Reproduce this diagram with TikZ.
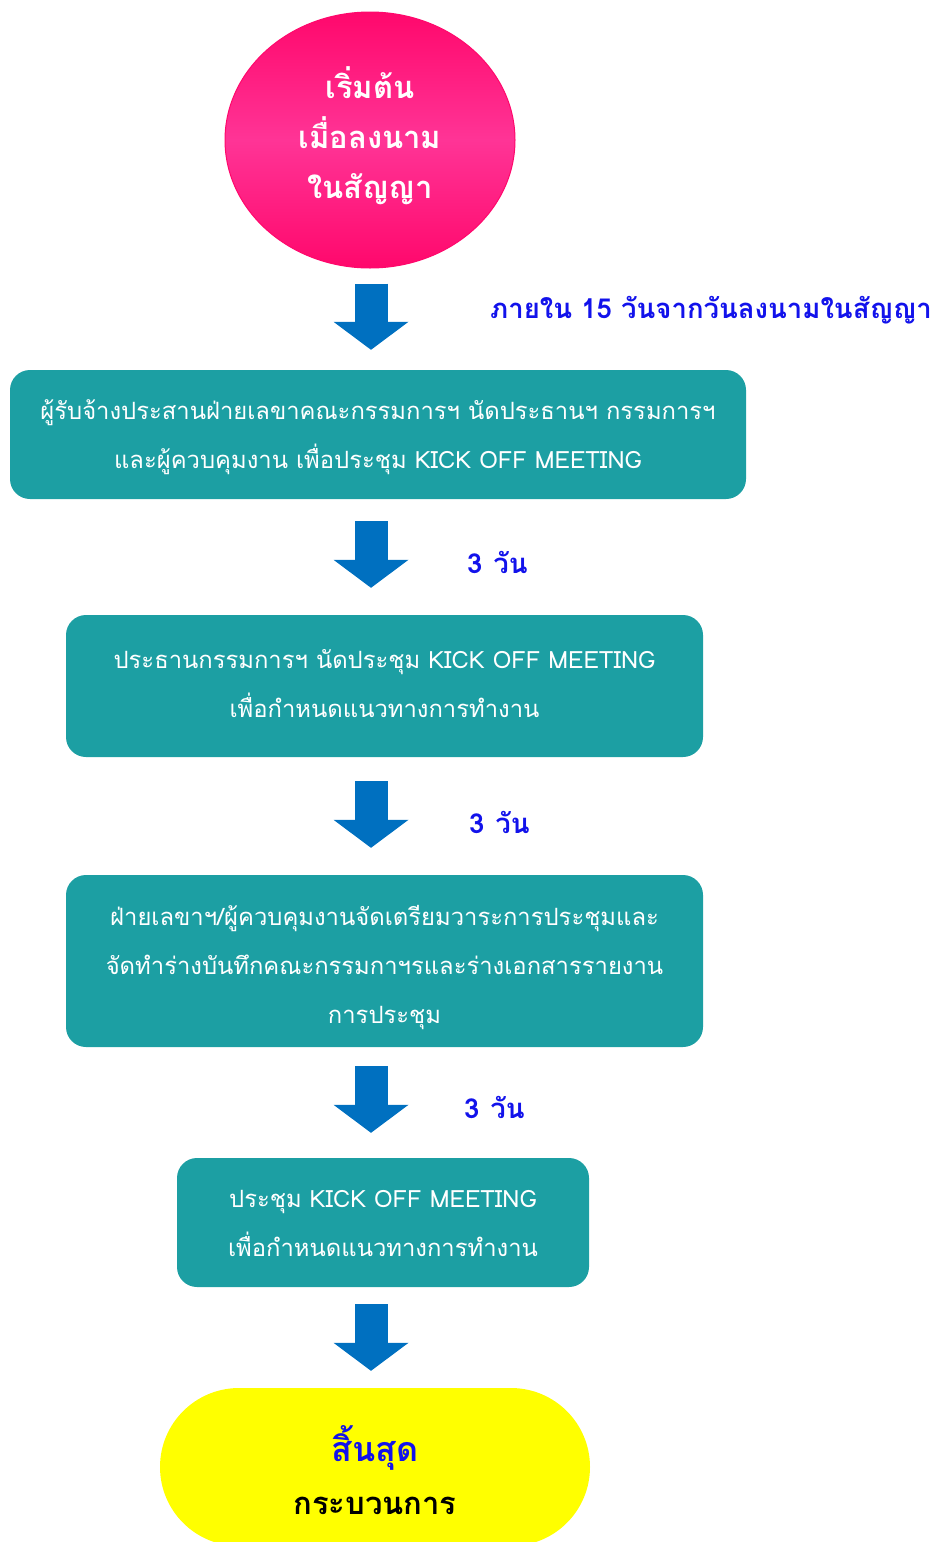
\documentclass[tikz,border=0pt]{standalone}
\usepackage{fontspec}
\newfontfamily\thaifont[Script=Thai]{Loma}
\usetikzlibrary{arrows.meta,positioning,shapes.geometric}

\definecolor{boxteal}{RGB}{28,159,163}
\definecolor{arrowblue}{RGB}{0,112,192}
\definecolor{labelblue}{RGB}{18,18,235}
\definecolor{pinkedge}{RGB}{255,8,108}
\definecolor{pinkmid}{RGB}{255,52,150}
\definecolor{endyellow}{RGB}{255,255,0}

\begin{document}
\begin{tikzpicture}[x=1pt, y=-1pt,
    stepbox/.style={rectangle, rounded corners=20pt, fill=boxteal, text=white,
        align=center, inner sep=0pt, text depth=13pt, font=\thaifont\fontsize{23.8}{49}\selectfont},
    daylabel/.style={anchor=west, inner sep=0pt, text=labelblue,
        font=\thaifont\bfseries\fontsize{27.5}{30}\selectfont},
    blockarrow/.style={draw=arrowblue, line width=33pt,
        -{Triangle[width=75pt, length=28pt, line width=0pt]}}]
    \useasboundingbox (0,0) rectangle (940,1542);
    \coordinate (axis) at (371,0);

    % start and end
    \node (start) [ellipse, draw=pinkedge, line width=1pt, minimum width=290pt, minimum height=256pt,
        top color=pinkedge, bottom color=pinkedge, middle color=pinkmid, text=white, align=center,
        text height=140pt, text depth=24pt,
        font=\thaifont\bfseries\fontsize{31}{50}\selectfont] at (370,140)
        {เริ่มต้น\\เมื่อลงนาม\\ในสัญญา};
    \node (finish) [rectangle, rounded corners=79pt, fill=endyellow, minimum width=430pt, minimum height=158pt,
        align=center, text height=110pt, text depth=16pt,
        font=\thaifont\bfseries\fontsize{31}{53}\selectfont] at (375,1467)
        {{\fontsize{34}{53}\selectfont\textcolor{labelblue}{สิ้นสุด}}\\กระบวนการ};

    % steps
    \node (kickoff) [stepbox, minimum width=736pt, minimum height=129pt, text height=80pt] at (378,434.5)
        {ผู้รับจ้างประสานฝ่ายเลขาคณะกรรมการฯ นัดประธานฯ กรรมการฯ\\และผู้ควบคุมงาน เพื่อประชุม KICK OFF MEETING};
    \node (chair) [stepbox, minimum width=637pt, minimum height=142pt, text height=75pt] at (384.5,686)
        {ประธานกรรมการฯ นัดประชุม KICK OFF MEETING\\เพื่อกำหนดแนวทางการทำงาน};
    \node (agenda) [stepbox, minimum width=637pt, minimum height=172pt, text height=140pt, text depth=16pt] at (384.5,961)
        {ฝ่ายเลขาฯ/ผู้ควบคุมงานจัดเตรียมวาระการประชุมและ\\จัดทำร่างบันทึกคณะกรรมกาฯรและร่างเอกสารรายงาน\\การประชุม};
    \node (meeting) [stepbox, minimum width=412pt, minimum height=129pt, text height=80pt] at (383,1222.5)
        {ประชุม KICK OFF MEETING\\เพื่อกำหนดแนวทางการทำงาน};

    % arrows
    \draw[blockarrow, shorten <=15pt, shorten >=20pt] (start.south -| axis) -- (kickoff.north -| axis);
    \draw[blockarrow, shorten <=22pt, shorten >=27pt] (kickoff.south -| axis) -- (chair.north -| axis);
    \draw[blockarrow, shorten <=24pt, shorten >=27pt] (chair.south -| axis) -- (agenda.north -| axis);
    \draw[blockarrow, shorten <=19pt, shorten >=25pt] (agenda.south -| axis) -- (meeting.north -| axis);
    \draw[blockarrow, shorten <=17pt, shorten >=17pt] (meeting.south -| axis) -- (finish.north -| axis);

    % durations
    \node (within) [daylabel] at (490,310) {ภายใน 15 วันจากวันลงนามในสัญญา};
    \node (days1) [daylabel] at (467,562) {3\hspace{0.4em}วัน};
    \node (days2) [daylabel] at (469,822) {3\hspace{0.4em}วัน};
    \node (days3) [daylabel] at (464,1107) {3\hspace{0.4em}วัน};
\end{tikzpicture}
\end{document}
